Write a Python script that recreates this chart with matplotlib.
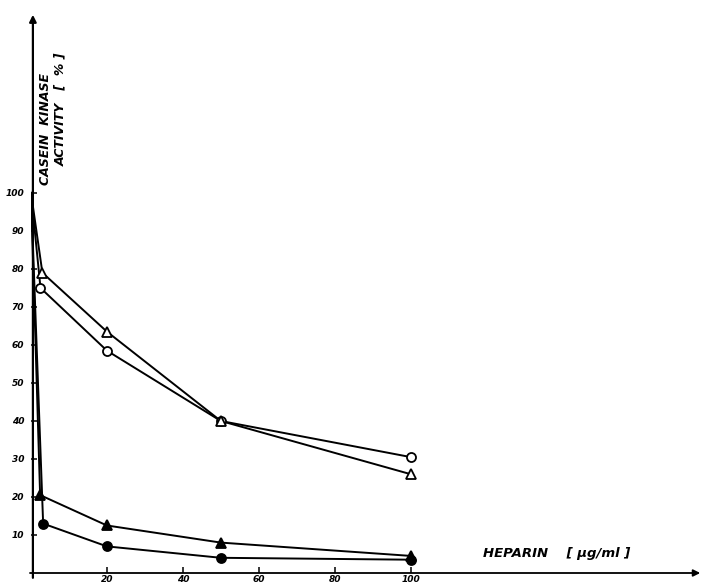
import matplotlib.pyplot as plt

# heparin concentration (ug/ml) and casein kinase activity (%)
x_open_circle = [0, 2.5, 20, 50, 100]
y_open_circle = [100, 75, 58.5, 40, 30.5]

x_open_tri = [0, 3, 20, 50, 100]
y_open_tri = [100, 79, 63.5, 40, 26]

x_filled_tri = [0, 2.4, 20, 50, 100]
y_filled_tri = [100, 20.5, 12.5, 8, 4.5]

x_filled_circle = [0, 3.2, 20, 50, 100]
y_filled_circle = [100, 13, 7, 4, 3.5]

xticks = [20, 40, 60, 80, 100]
yticks = [10, 20, 30, 40, 50, 60, 70, 80, 90, 100]

font = dict(family='DejaVu Sans', style='italic', weight='bold')

fig = plt.figure(figsize=(7.09, 5.88), dpi=100)
ax = fig.add_axes([31 / 709, 15 / 588, 672 / 709, 561 / 588])
ax.set_xlim(0, 177)
ax.set_ylim(0, 147.6)

def curve(x, y, marker, filled):
    ax.plot(x, y, color='black', lw=1.4, zorder=2)
    ax.plot(x[1:], y[1:], ls='none', marker=marker, ms=6.5 if marker == 'o' else 7,
            mfc='black' if filled else 'white', mec='black', mew=1.3, zorder=3)

curve(x_open_circle, y_open_circle, 'o', False)
curve(x_open_tri, y_open_tri, '^', False)
curve(x_filled_tri, y_filled_tri, '^', True)
curve(x_filled_circle, y_filled_circle, 'o', True)

for s in ax.spines.values():
    s.set_visible(False)

# axes drawn as arrows
ax.annotate('', xy=(177, 0), xytext=(-1, 0), xycoords='data',
            arrowprops=dict(arrowstyle='-|>', color='black', lw=1.3, mutation_scale=10),
            annotation_clip=False)
ax.annotate('', xy=(0.5, 147.6), xytext=(0.5, -2), xycoords='data',
            arrowprops=dict(arrowstyle='-|>', color='black', lw=1.6, mutation_scale=10),
            annotation_clip=False)

ax.set_xticks(xticks)
ax.set_yticks(yticks)
ax.tick_params(axis='both', direction='in', length=4, width=1.1, color='black',
               labelsize=6.5)
ax.tick_params(axis='x', pad=1.5)
ax.tick_params(axis='y', pad=5)
for lab in ax.get_xticklabels() + ax.get_yticklabels():
    lab.set_fontstyle('italic')
    lab.set_fontweight('bold')

ax.text(3.8, 102, 'CASEIN  KINASE', rotation=90, fontsize=9, ha='center',
        va='bottom', **font)
ax.text(7.8, 107, 'ACTIVITY   [  % ]', rotation=90, fontsize=9, ha='center',
        va='bottom', **font)
ax.text(119, 3.3, 'HEPARIN    [ µg/ml ]', fontsize=9.5, ha='left', va='bottom', **font)

fig.savefig('out.png', dpi=100)
